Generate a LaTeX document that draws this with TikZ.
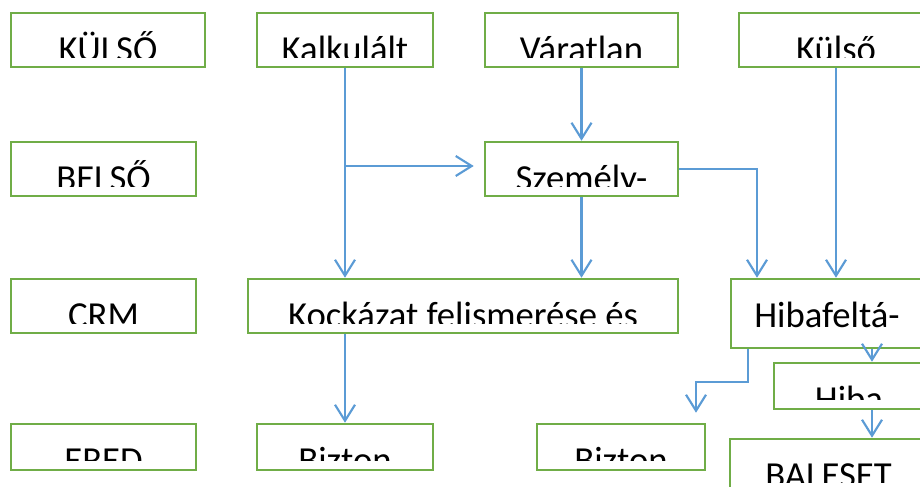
\documentclass[tikz,border=0pt]{standalone}
\usepackage{fontspec}
\setmainfont{Carlito}
\usetikzlibrary{arrows.meta,fit}
\definecolor{gline}{HTML}{70AD47}
\definecolor{bline}{HTML}{5B9BD5}
\tikzset{
  gbox/.style={draw=gline, line width=1.9pt, inner sep=0pt},
  lbl/.style={font=\fontsize{27.5}{32}\selectfont, anchor=base, inner sep=0pt, text=black},
  conn/.style={draw=bline, line width=1.6pt, -{Straight Barb[length=12pt,width=15pt,line width=1.6pt]}},
}
\newcommand\cbox[6]{%
  \coordinate (#1-nw) at (#2,#3);
  \coordinate (#1-se) at (#4,#5);
  \node[gbox, fit=(#1-nw)(#1-se)] (#1) {};
  \begin{scope}
    \clip (#2,#3) rectangle (#4,#5-10);
    \node[lbl] at ({(#2+#4)/2},#3+48) {#6};
  \end{scope}}
\begin{document}
\begin{tikzpicture}[x=0.75pt,y=-0.75pt]
\useasboundingbox (0,0) rectangle (920,486);
\clip (0,0) rectangle (920,486);
% row 1
\cbox{kulsoA}{11}{13}{205}{67}{KÜLSŐ}
\cbox{kalk}{257}{13}{433}{67}{Kalkulált}
\cbox{var}{485}{13}{678}{67}{Váratlan}
\cbox{kulsoB}{739}{13}{933}{67}{Külső}
% row 2
\cbox{belso}{11}{142}{196}{196}{BELSŐ}
\cbox{szem}{485}{142}{678}{196}{Személy-}
% row 3
\cbox{crm}{11}{279}{196}{333}{CRM}
\cbox{kock}{248}{279}{678}{333}{Kockázat felismerése és}
\cbox{hibaf}{731}{279}{923}{348}{Hibafeltá-}
\cbox{hiba}{774}{363}{924}{409}{Hiba}
% row 4
\cbox{ered}{11}{424}{196}{470}{ERED}
\cbox{bizA}{257}{424}{433}{470}{Bizton}
\cbox{bizB}{537}{424}{705}{470}{Bizton}
\cbox{bal}{730}{439}{927}{492}{BALESET}
% connectors
\coordinate (br) at (345,166);
\coordinate (c1) at (757,169);
\coordinate (c2) at (748,382);
\coordinate (c3) at (696,382);
\coordinate (c4) at (872,0);
\draw[conn] (kalk.south) -- (kalk.south |- kock.north);
\draw[conn, shorten >=7.5pt] (br) -- (br -| szem.west);
\draw[conn] (var.south) -- (szem.north);
\draw[conn] (szem.south) -- (szem.south |- kock.north);
\draw[conn] (szem.east) -- (c1) -- (c1 |- hibaf.north);
\draw[conn] (kulsoB.south) -- (kulsoB.south |- hibaf.north);
\draw[conn] (kock.south -| bizA.north) -- (bizA.north);
\draw[conn, shorten >=7.5pt] (hibaf.south -| c2) -- (c2) -- (c3) -- (c3 |- bizB.north);
\draw[conn] (hibaf.south -| c4) -- (hiba.north -| c4);
\draw[conn] (hiba.south -| c4) -- (bal.north -| c4);
\end{tikzpicture}
\end{document}
